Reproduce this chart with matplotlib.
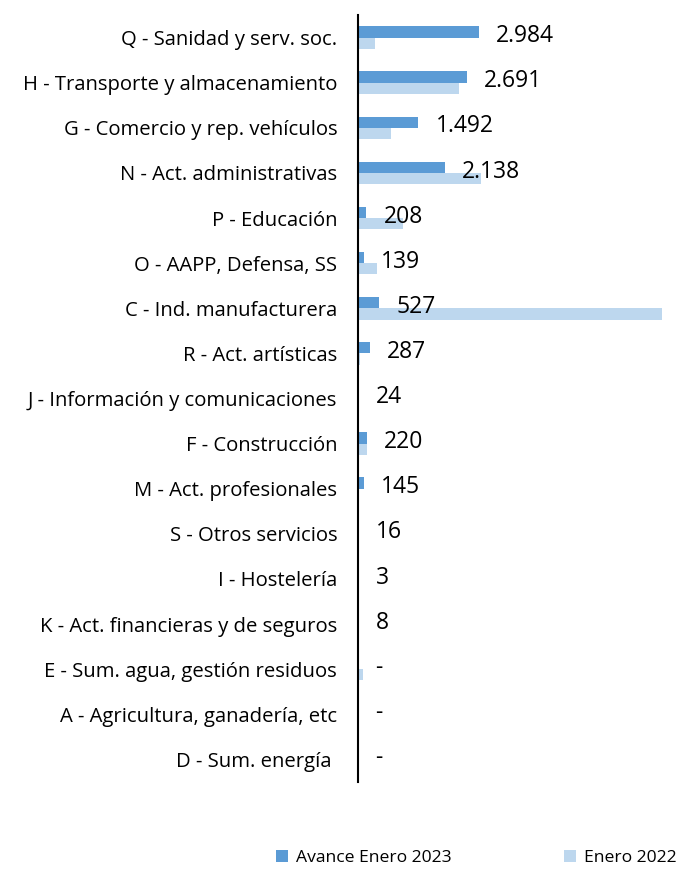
import matplotlib
matplotlib.use("Agg")
import matplotlib.pyplot as plt
import numpy as np

categories = [
    "Q - Sanidad y serv. soc.",
    "H - Transporte y almacenamiento",
    "G - Comercio y rep. vehículos",
    "N - Act. administrativas",
    "P - Educación",
    "O - AAPP, Defensa, SS",
    "C - Ind. manufacturera",
    "R - Act. artísticas",
    "J - Información y comunicaciones",
    "F - Construcción",
    "M - Act. profesionales",
    "S - Otros servicios",
    "I - Hostelería",
    "K - Act. financieras y de seguros",
    "E - Sum. agua, gestión residuos",
    "A - Agricultura, ganadería, etc",
    "D - Sum. energía ",
]
avance_2023 = [2984, 2691, 1492, 2138, 208, 139, 527, 287, 24, 220, 145, 16, 3, 8, 0, 0, 0]
enero_2022 = [410, 2490, 810, 3030, 1100, 460, 7520, 40, 30, 215, 30, 20, 20, 5, 120, 25, 25]
value_labels = ["2.984", "2.691", "1.492", "2.138", "208", "139", "527", "287", "24",
                "220", "145", "16", "3", "8", "-", "-", "-"]
series_names = ["Avance Enero 2023", "Enero 2022"]

plt.rcParams['font.family'] = ['Open Sans', 'DejaVu Sans']

W, H = 683, 869
fig = plt.figure(figsize=(W / 100, H / 100), dpi=100)
left, right, top, bottom = 358, 675, 15, 782
ax = fig.add_axes([left / W, 1 - bottom / H, (right - left) / W, (bottom - top) / H])

c_dark = "#5B9BD5"
c_light = "#BDD7EE"
y = np.arange(len(categories))
bh = 0.25
b1 = ax.barh(y - bh / 2, avance_2023, height=bh, color=c_dark, label=series_names[0])
b2 = ax.barh(y + bh / 2, enero_2022, height=bh, color=c_light, label=series_names[1])

ax.set_ylim(len(categories) - 0.5, -0.5)
ax.set_xlim(0, (right - left) * 24.7)
ax.set_yticks(y)
ax.set_yticklabels(categories, fontsize=14.6)
ax.tick_params(axis='y', length=0, pad=15)
ax.set_xticks([])
for s in ["top", "right", "bottom"]:
    ax.spines[s].set_visible(False)
ax.spines["left"].set_linewidth(1.5)
ax.spines["left"].set_color("black")

for i, (v, lab) in enumerate(zip(avance_2023, value_labels)):
    ax.annotate(lab, xy=(v, i - 0.03), xytext=(12.5, 0), textcoords="offset points",
                va="center", ha="left", fontsize=16.5, color="black")

fig.legend(handles=[b1, b2], labels=series_names, loc="center",
           bbox_to_anchor=(476 / W, 1 - 858 / H), ncol=2, frameon=False,
           fontsize=12.6, handlelength=0.7, handleheight=0.7, handletextpad=0.45,
           columnspacing=6.4, borderpad=0)

fig.savefig("out.png", dpi=100)
